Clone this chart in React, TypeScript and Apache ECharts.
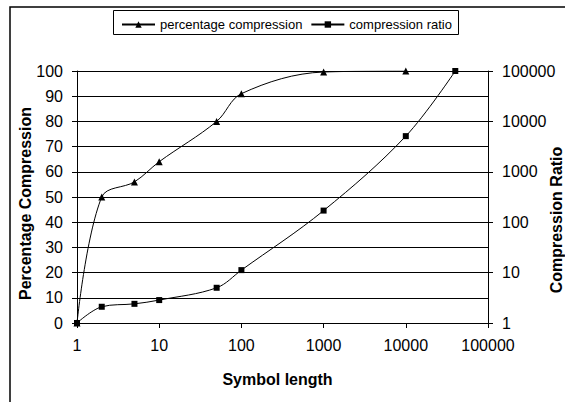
import React, { useEffect, useRef } from "react";
import * as echarts from "echarts";

const symbolLengths = [1, 2, 5, 10, 50, 100, 1000, 10000];
const percentageCompression = [0, 50, 56, 64, 80, 91, 99.6, 100];
const ratioLengths = [1, 2, 5, 10, 50, 100, 1000, 10000, 40000];
const compressionRatio = [1, 2.1, 2.4, 2.85, 5, 11.2, 170, 5100, 100000];

const seriesNames = ["percentage compression", "compression ratio"];
const xAxisTitle = "Symbol length";
const leftAxisTitle = "Percentage Compression";
const rightAxisTitle = "Compression Ratio";

const FONT = "'Liberation Sans', Arial, sans-serif";

export default function App() {
  const ref = useRef<HTMLDivElement>(null);
  useEffect(() => {
    if (!ref.current) return;
    const chart = echarts.init(ref.current, undefined, { renderer: "svg" });
    const plain = (v: number) => String(Math.round(v));
    const tickLabel = { color: "#000", fontSize: 16, fontFamily: FONT, formatter: plain };
    chart.setOption({
      animation: false,
      backgroundColor: "#fff",
      textStyle: { fontFamily: FONT },
      grid: { left: 77, right: 77, top: 71, bottom: 79, containLabel: false },
      legend: {
        left: 121,
        top: 18,
        padding: 0,
        itemWidth: 33,
        itemHeight: 8,
        itemGap: 8,
        textStyle: { color: "#000", fontSize: 13, fontFamily: FONT },
        data: seriesNames,
      },
      graphic: [
        {
          type: "rect",
          z: -10,
          silent: true,
          shape: { x: 10, y: 7, width: 700, height: 500 },
          style: { fill: "#fff", stroke: "#000", lineWidth: 1.5 },
        },
        {
          type: "rect",
          z: -5,
          silent: true,
          shape: { x: 113.5, y: 10.5, width: 345, height: 24 },
          style: { fill: "#fff", stroke: "#000", lineWidth: 1 },
        },
        {
          type: "text",
          x: 277.5,
          y: 379,
          style: {
            text: xAxisTitle,
            fill: "#000",
            font: `bold 16px ${FONT}`,
            textAlign: "center",
            textVerticalAlign: "middle",
          },
        },
        {
          type: "text",
          x: 25.5,
          y: 203.5,
          rotation: Math.PI / 2,
          style: {
            text: leftAxisTitle,
            fill: "#000",
            font: `bold 16px ${FONT}`,
            textAlign: "center",
            textVerticalAlign: "middle",
          },
        },
        {
          type: "text",
          x: 556,
          y: 220,
          rotation: Math.PI / 2,
          style: {
            text: rightAxisTitle,
            fill: "#000",
            font: `bold 16px ${FONT}`,
            textAlign: "center",
            textVerticalAlign: "middle",
          },
        },
      ],
      xAxis: {
        type: "log",
        logBase: 10,
        min: 1,
        max: 100000,
        axisLine: { lineStyle: { color: "#000", width: 1 } },
        axisTick: { show: true, length: 5, lineStyle: { color: "#000" } },
        axisLabel: { ...tickLabel, margin: 14 },
        splitLine: { show: false },
        minorTick: { show: false },
      },
      yAxis: [
        {
          type: "value",
          min: 0,
          max: 100,
          interval: 10,
          position: "left",
          axisLine: { show: true, lineStyle: { color: "#000", width: 1 } },
          axisTick: { show: true, length: 5, lineStyle: { color: "#000" } },
          axisLabel: { ...tickLabel, margin: 14 },
          splitLine: { show: true, lineStyle: { color: "#000", width: 1 } },
        },
        {
          type: "log",
          logBase: 10,
          min: 1,
          max: 100000,
          position: "right",
          axisLine: { show: true, lineStyle: { color: "#000", width: 1 } },
          axisTick: { show: true, length: 5, lineStyle: { color: "#000" } },
          axisLabel: { ...tickLabel, margin: 14 },
          splitLine: { show: false },
        },
      ],
      series: [
        {
          name: seriesNames[0],
          type: "line",
          yAxisIndex: 0,
          smooth: 0.35,
          symbol: "triangle",
          symbolSize: 7,
          lineStyle: { color: "#000", width: 1 },
          itemStyle: { color: "#000" },
          data: symbolLengths.map((x, i) => [x, percentageCompression[i]]),
        },
        {
          name: seriesNames[1],
          type: "line",
          yAxisIndex: 1,
          smooth: 0.35,
          symbol: "rect",
          symbolSize: 6,
          lineStyle: { color: "#000", width: 1 },
          itemStyle: { color: "#000" },
          data: ratioLengths.map((x, i) => [x, compressionRatio[i]]),
        },
      ],
    });
    return () => chart.dispose();
  }, []);
  return (
    <div
      ref={ref}
      style={{ position: "absolute", left: 0, top: 0, width: 565, height: 402 }}
    />
  );
}
